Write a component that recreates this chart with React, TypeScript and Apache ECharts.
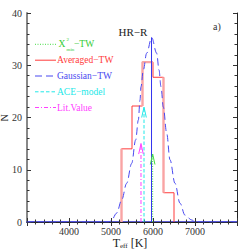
import React, { useEffect, useRef } from "react";
import * as echarts from "echarts";

// Histogram (Averaged-TW)
const binEdges = [5250, 5500, 5750, 6000, 6250, 6500];
const binCounts = [14.0, 22.2, 30.6, 27.7, 5.6];

// Gaussian-TW curve
const gaussT = [3000, 4950, 5017, 5135, 5254, 5373, 5492, 5587, 5651, 5690, 5714, 5770, 5849, 5969, 6088, 6143, 6190, 6246, 6326, 6405, 6524, 6643, 6762, 6921, 7000, 8000];
const gaussN = [0, 0, 0.4, 1.7, 4.2, 7.4, 11.2, 15.7, 19.5, 23.3, 25.9, 29.1, 32.3, 35.3, 32.3, 29.1, 25.9, 22.0, 17.0, 11.9, 7.4, 3.6, 1.3, 0.4, 0, 0];
const gaussMean = 5965;
const gaussPeak = 35.3;

// Markers (arrows)
const chiT = 5992;
const chiN = 13.0;
const aceT = 5786;
const aceN = 22.0;
const litT = 5714;
const litN = 15.0;

const xTicks = [4000, 5000, 6000, 7000];
const yTicks = [0, 10, 20, 30, 40];

const FONT = "Liberation Serif";

function histData() {
  const d: number[][] = [[binEdges[0], 0]];
  for (let i = 0; i < binCounts.length; i++) {
    d.push([binEdges[i], binCounts[i]]);
    d.push([binEdges[i + 1], binCounts[i]]);
  }
  d.push([binEdges[binEdges.length - 1], 0]);
  return d;
}

// broad (pink) segments of the histogram outline
function pinkSegments() {
  return [
    [[binEdges[0], 0], [binEdges[0], binCounts[0]]],
    [[binEdges[2], binCounts[1]], [binEdges[2], binCounts[2]], [binEdges[3], binCounts[2]]],
    [[binEdges[4], binCounts[3]], [binEdges[4], binCounts[4]]],
  ];
}

function arrowHead(x: number, y: number) {
  return [
    [x - 55, y - 2.0],
    [x, y],
    [x + 55, y - 2.0],
  ];
}

export default function App() {
  const ref = useRef<HTMLDivElement>(null);
  useEffect(() => {
    if (!ref.current) return;
    const chart = echarts.init(ref.current, undefined, { renderer: "svg" });
    const green = "#44dd44";
    const red = "#ff3b3b";
    const blue = "#4848f0";
    const cyan = "#22e8e8";
    const magenta = "#ff40ff";
    const axisCommon = {
      type: "value" as const,
      splitLine: { show: false },
      axisTick: { show: true, inside: true, length: 4, lineStyle: { color: "#333" } },
      minorTick: { show: true, splitNumber: 5, length: 2.5, lineStyle: { color: "#333" } },
    };
    const legendY = [44.3, 60.2, 76.0, 91.8, 107.5];
    const legendLine = (y: number, color: string, dash: number[] | null) => ({
      type: "line",
      shape: { x1: 35, y1: y, x2: 56, y2: y },
      style: { stroke: color, lineWidth: 1, lineDash: dash || undefined },
      silent: true,
    });
    const legendText = (x: number, y: number, text: string, color: string, size = 9.5) => ({
      type: "text",
      x,
      y,
      style: { text, fill: color, font: `${size}px "${FONT}"`, verticalAlign: "middle", align: "left" },
      silent: true,
    });
    const pinkSeries = pinkSegments().map((seg) => ({
      type: "line",
      data: seg,
      showSymbol: false,
      lineStyle: { color: "#f9a4a4", width: 2.4 },
      z: 3,
    }));
    chart.setOption({
      animation: false,
      grid: { left: 27, right: 12, top: 13, bottom: 27, containLabel: false },
      xAxis: [
        {
          ...axisCommon,
          min: 3000,
          max: 8000,
          interval: 1000,
          axisLine: { show: true, lineStyle: { color: "#2828c8", width: 1.5 } },
          axisLabel: {
            show: true,
            margin: 4,
            fontSize: 10,
            fontFamily: FONT,
            color: "#333",
            showMinLabel: false,
            showMaxLabel: false,
            formatter: (v: number) => (xTicks.includes(v) ? String(v) : ""),
          },
        },
        {
          ...axisCommon,
          position: "top",
          min: 3000,
          max: 8000,
          interval: 1000,
          axisLine: { show: true, lineStyle: { color: "#222", width: 1 } },
          axisLabel: { show: false },
        },
      ],
      yAxis: [
        {
          ...axisCommon,
          min: 0,
          max: 40,
          interval: 10,
          axisLine: { show: true, lineStyle: { color: "#888", width: 2 } },
          axisLabel: {
            show: true,
            margin: 5,
            fontSize: 10,
            fontFamily: FONT,
            color: "#333",
            formatter: (v: number) => (yTicks.includes(v) ? String(v) : ""),
          },
        },
        {
          ...axisCommon,
          position: "right",
          min: 0,
          max: 40,
          interval: 10,
          axisLine: { show: true, lineStyle: { color: "#222", width: 1 } },
          axisLabel: { show: false },
        },
      ],
      series: [
        {
          type: "line",
          data: histData(),
          showSymbol: false,
          lineStyle: { color: red, width: 1 },
          z: 2,
        },
        ...pinkSeries,
        {
          type: "line",
          data: gaussT.map((t, i) => [t, gaussN[i]]),
          showSymbol: false,
          smooth: 0.35,
          smoothMonotone: "x",
          lineStyle: { color: blue, width: 1, type: [7, 4] },
          z: 4,
        },
        {
          type: "line",
          data: [[gaussMean, 0], [gaussMean, gaussPeak]],
          showSymbol: false,
          lineStyle: { color: "#3333ee", width: 1 },
          z: 4,
        },
        {
          type: "line",
          data: [[chiT, 0], [chiT, chiN]],
          showSymbol: false,
          lineStyle: { color: green, width: 1, type: [1, 1.5] },
          z: 5,
        },
        {
          type: "line",
          data: arrowHead(chiT, chiN),
          showSymbol: false,
          lineStyle: { color: green, width: 1 },
          z: 5,
        },
        {
          type: "line",
          data: [[aceT, 0], [aceT, aceN]],
          showSymbol: false,
          lineStyle: { color: cyan, width: 1, type: [3.5, 2] },
          z: 5,
        },
        {
          type: "line",
          data: arrowHead(aceT, aceN),
          showSymbol: false,
          lineStyle: { color: cyan, width: 1 },
          z: 5,
        },
        {
          type: "line",
          data: [[litT, 0], [litT, litN]],
          showSymbol: false,
          lineStyle: { color: magenta, width: 1, type: [4, 2, 1, 2] },
          z: 5,
        },
        {
          type: "line",
          data: arrowHead(litT, litN),
          showSymbol: false,
          lineStyle: { color: magenta, width: 1 },
          z: 5,
        },
      ],
      graphic: [
        legendLine(legendY[0], green, [1, 1.5]),
        legendLine(legendY[1], red, null),
        legendLine(legendY[2], blue, [7, 4]),
        legendLine(legendY[3], cyan, [3.5, 2]),
        legendLine(legendY[4], magenta, [4, 2, 1, 2]),
        legendText(58.5, legendY[0], "X", "#33cc33", 9.5),
        legendText(66.5, legendY[0] - 5, "2", "#33cc33", 5),
        legendText(66.5, legendY[0] + 5, "min", "#33cc33", 5),
        legendText(74, legendY[0], "−TW", "#33cc33", 9.5),
        legendText(57, legendY[1], "Averaged−TW", red),
        legendText(57, legendY[2], "Gaussian−TW", blue),
        legendText(57, legendY[3], "ACE−model", cyan),
        legendText(57, legendY[4], "Lit.Value", magenta),
        {
          type: "text",
          x: 133,
          y: 31.7,
          style: { text: "HR−R", fill: "#222", font: `11px "${FONT}"`, align: "center", verticalAlign: "middle" },
          silent: true,
        },
        {
          type: "text",
          x: 217,
          y: 26.7,
          style: { text: "a)", fill: "#333", font: `10px "${FONT}"`, align: "center", verticalAlign: "middle" },
          silent: true,
        },
        {
          type: "text",
          x: 4,
          y: 118,
          rotation: Math.PI / 2,
          style: { text: "N", fill: "#222", font: `10px "${FONT}"`, align: "center", verticalAlign: "middle" },
          silent: true,
        },
        {
          type: "text",
          x: 130,
          y: 243,
          style: {
            text: "T{s|eff} [K]",
            fill: "#222",
            font: `12px "${FONT}"`,
            align: "center",
            verticalAlign: "middle",
            rich: {
              s: { fontSize: 7, fontFamily: FONT, fill: "#222", padding: [6, 0, 0, 0] },
            },
          },
          silent: true,
        },
      ],
    });
    return () => chart.dispose();
  }, []);
  return <div ref={ref} style={{ width: 249, height: 249, position: "absolute", left: 0, top: 0 }} />;
}
